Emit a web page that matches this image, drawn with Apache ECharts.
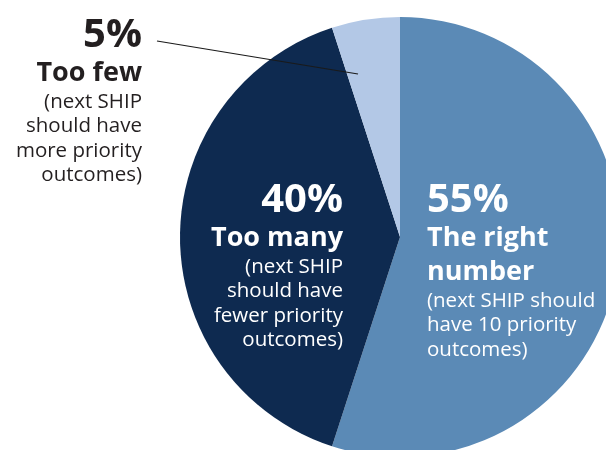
<!DOCTYPE html>
<html>
<head>
<meta charset="utf-8">
<script src="https://cdn.jsdelivr.net/npm/echarts@6/dist/echarts.min.js"></script>
<style>
  html, body { margin: 0; padding: 0; background: #ffffff; }
  #chart { width: 606px; height: 450px; }
</style>
</head>
<body>
<div id="chart"></div>
<script>
// Survey answers: how many priority outcomes the SHIP should have
const categories = ['The right\nnumber', 'Too many', 'Too few'];
const shares = [55, 40, 5];
const notes = [
  '(next SHIP should\nhave 10 priority\noutcomes)',
  '(next SHIP\nshould have\nfewer priority\noutcomes)',
  '(next SHIP\nshould have\nmore priority\noutcomes)'
];

const FONT = 'Open Sans';
const sliceColors = ['#5b8ab6', '#0e2a50', '#b3c8e6'];
const textColors = ['#ffffff', '#ffffff', '#231f20'];
const aligns = ['left', 'right', 'right'];
// where each label block sits (x = anchor edge, y = top)
const labelSpots = [
  { x: 427, y: 181 },
  { x: 343, y: 181 },
  { x: 142, y: 16 }
];

function richFor(i) {
  const c = textColors[i], a = aligns[i];
  return {
    p: { fontFamily: FONT, fontWeight: 'bold', fontSize: 40, lineHeight: 40, color: c, align: a },
    t: { fontFamily: FONT, fontWeight: 'bold', fontSize: 27, lineHeight: 34, color: c, align: a },
    s: { fontFamily: FONT, fontWeight: 'normal', fontSize: 20.5, lineHeight: 24.3, color: c, align: a }
  };
}

const data = shares.map((v, i) => ({
  name: categories[i],
  value: v,
  itemStyle: { color: sliceColors[i] },
  label: {
    show: true,
    position: 'inside',
    formatter: '{p|{c}%}\n{t|' + categories[i] + '}\n{s|' + notes[i] + '}',
    align: aligns[i],
    rich: richFor(i)
  },
  labelLine: { show: false }
}));

const chart = echarts.init(document.getElementById('chart'), null, { renderer: 'canvas' });
chart.setOption({
  animation: false,
  backgroundColor: '#ffffff',
  // leader from the "Too few" label into its slice, drawn above the pie
  graphic: [{
    type: 'line',
    z: 100,
    shape: { x1: 157, y1: 41, x2: 358, y2: 74 },
    style: { stroke: '#1a1a1a', lineWidth: 1.2 }
  }],
  series: [{
    type: 'pie',
    center: [400, 237],
    radius: 220,
    startAngle: 90,
    clockwise: true,
    avoidLabelOverlap: false,
    itemStyle: { borderWidth: 0 },
    emphasis: { disabled: true },
    data: data,
    labelLayout: function (params) {
      const spot = labelSpots[params.dataIndex];
      return { x: spot.x, y: spot.y, align: aligns[params.dataIndex], verticalAlign: 'top' };
    }
  }]
});
</script>
</body>
</html>
